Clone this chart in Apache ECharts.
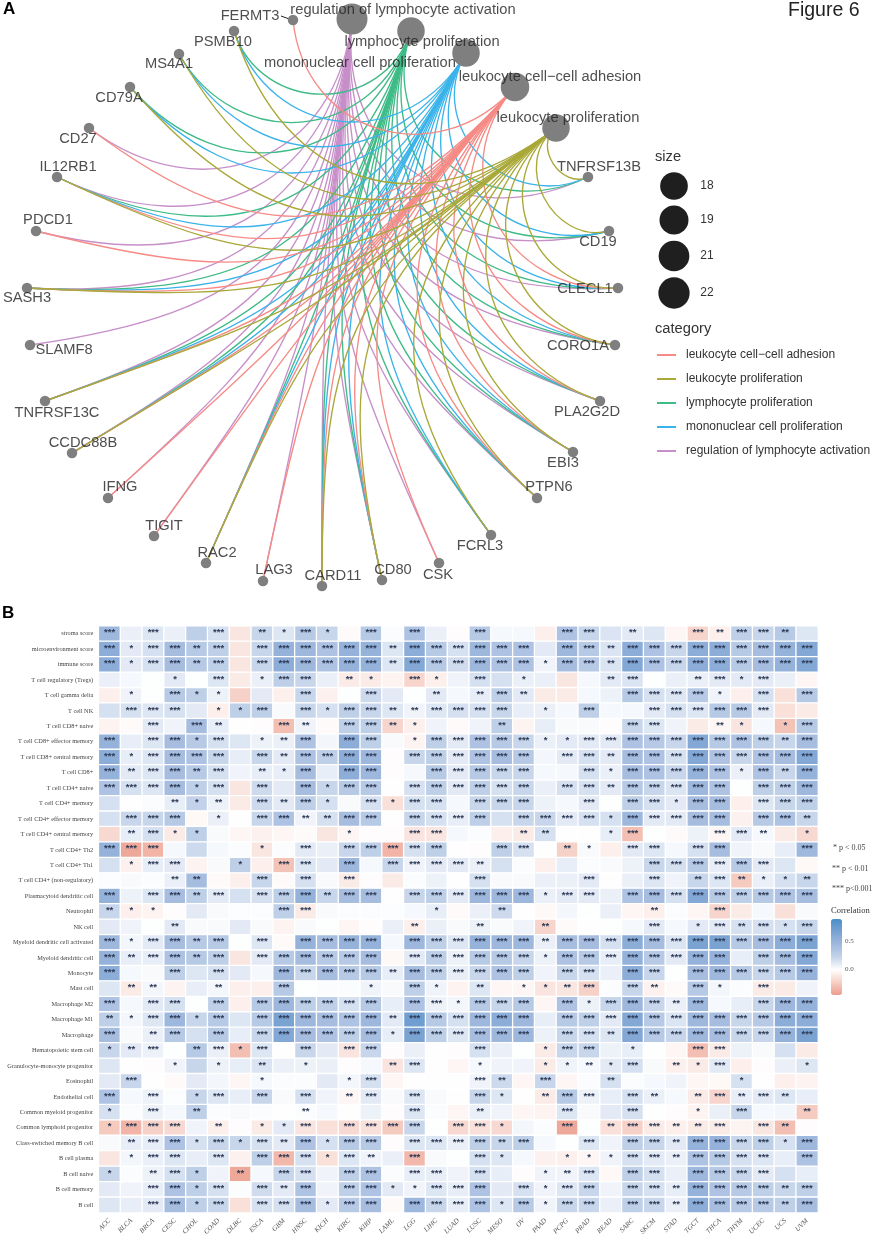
<!DOCTYPE html>
<html>
<head>
<meta charset="utf-8">
<style>html,body{margin:0;padding:0;background:#fff}#c{width:872px;height:1240px}</style>
<script src="https://cdn.jsdelivr.net/npm/echarts@6/dist/echarts.min.js"></script>
</head>
<body>
<div id="c"></div>
<script>
// ---------- panel A data ----------
const termNames = ['leukocyte cell\u2212cell adhesion','leukocyte proliferation','lymphocyte proliferation','mononuclear cell proliferation','regulation of lymphocyte activation'];
const termColors = ['#f68b86','#a9a838','#3fbb87','#3ab3ea','#c78fc9'];
const termX = [515,556,411,466,352];
const termY = [87,128,31,53,19];
const termSizes = [19,18,18,18,22];
const termDiameters = [28.5,27.5,27.5,27.5,31];
const termLabelX = [550,568,422,360,403];
const termLabelY = [77,118,42,63,10];

const geneNames = ['FERMT3','PSMB10','MS4A1','CD79A','CD27','IL12RB1','PDCD1','SASH3','SLAMF8','TNFRSF13C','CCDC88B','IFNG','TIGIT','RAC2','LAG3','CARD11','CD80','CSK','FCRL3','PTPN6','EBI3','PLA2G2D','CORO1A','CLECL1','CD19','TNFRSF13B'];
const geneX = [293,234,179,130,89,57,36,27,30,45,72,108,154,206,263,322,382,439,491,537,573,600,615,618,609,588];
const geneY = [20,31,54,87,128,177,231,288,345,401,453,498,536,563,581,586,580,563,535,498,452,401,345,288,231,177];
const geneLabelX = [250,223,169,119,78,68,48,27,64,57,83,120,164,217,274,333,393,438,480,549,563,587,578,585,598,599];
const geneLabelY = [16,42,64,98,139,167,220,298,350,413,443,487,526,553,570,576,570,575,546,487,463,412,346,289,242,167];

const adhesionGenes = ['FERMT3','CD27','IL12RB1','PDCD1','SASH3','TNFRSF13C','CCDC88B','IFNG','TIGIT','RAC2','LAG3','CARD11','CD80','CSK','PTPN6','EBI3','PLA2G2D','CORO1A','CLECL1'];
const proliferationGenes = ['PSMB10','MS4A1','CD79A','IL12RB1','SASH3','TNFRSF13C','CCDC88B','RAC2','CARD11','CD80','FCRL3','PTPN6','EBI3','PLA2G2D','CORO1A','CLECL1','CD19','TNFRSF13B'];
const lymphocyteGenes = proliferationGenes;
const mononuclearGenes = proliferationGenes;
const regulationGenes = ['CD27','IL12RB1','PDCD1','SASH3','SLAMF8','TNFRSF13C','CCDC88B','IFNG','TIGIT','RAC2','LAG3','CARD11','CD80','CSK','FCRL3','PTPN6','EBI3','PLA2G2D','CORO1A','CLECL1','CD19','TNFRSF13B'];

const sizeLegendValues = [18,19,21,22];
const sizeLegendDiameters = [27.7,29,30.7,31.3];
const sizeLegendY = [186,220,256,293];

// ---------- panel B data ----------
const cancers = ['ACC','BLCA','BRCA','CESC','CHOL','COAD','DLBC','ESCA','GBM','HNSC','KICH','KIRC','KIRP','LAML','LGG','LIHC','LUAD','LUSC','MESO','OV','PAAD','PCPG','PRAD','READ','SARC','SKCM','STAD','TGCT','THCA','THYM','UCEC','UCS','UVM'];
const cellTypes = ['stroma score','microenvironment score','immune score','T cell regulatory (Tregs)','T cell gamma delta','T cell NK','T cell CD8+ naive','T cell CD8+ effector memory','T cell CD8+ central memory','T cell CD8+','T cell CD4+ naive','T cell CD4+ memory','T cell CD4+ effector memory','T cell CD4+ central memory','T cell CD4+ Th2','T cell CD4+ Th1','T cell CD4+ (non-regulatory)','Plasmacytoid dendritic cell','Neutrophil','NK cell','Myeloid dendritic cell activated','Myeloid dendritic cell','Monocyte','Mast cell','Macrophage M2','Macrophage M1','Macrophage','Hematopoietic stem cell','Granulocyte-monocyte progenitor','Eosinophil','Endothelial cell','Common myeloid progenitor','Common lymphoid progenitor','Class-switched memory B cell','B cell plasma','B cell naive','B cell memory','B cell'];
const correlation = [
[.45,.07,.12,.07,.25,.15,-.12,.2,.12,.3,.2,-.03,.3,.01,.35,.07, -.02,.3,.03,.03,-.08,.35,.2,.13,.1,.12,-.05,-.2,-.08,.25,.2,.3,.12],
[.55,.1,.15,.4,.3,.25,-.12,.2,.5,.45,.35,.5,.5,.12,.55,.3, .15,.45,.35,.35,.1,.45,.3,.13,.55,.35,.2,.55,.55,.3,.4,.5,.6],
[.55,.1,.15,.4,.3,.25,-.12,.2,.55,.45,.35,.5,.5,.12,.6,.3, .17,.45,.35,.35,.05,.4,.3,.13,.6,.35,.2,.55,.55,.3,.4,.5,.6],
[.07,.03,0,.1,0,.12,-.1,.07,.25,.2,.07,-.1,-.1,-.06,-.2,-.08, .05,.15,.15,.07,.07,-.12,.03,.1,.13,0,.07,.07,.1,.1,.1,.07,-.05],
[-.08,.05,0,.3,.25,.06,-.22,.1,-.08,.2,-.07,0,.18,.1,0,.1, .03,.08,.25,.1,-.1,-.1,.03,.06,.3,.15,.12,.3,.05,-.08,.15,-.15,.3],
[.15,.15,.12,.15,.1,-.08,.25,.25,.02,.2,.15,.25,.2,.12,.05,.12, .15,.15,.2,.08,.07,.03,.25,.03,.03,.1,.15,.12,.3,.3,.1,-.15,-.1],
[-.06,-.03,.1,.05,.4,.08,-.01,-.02,-.3,.05,-.03,.25,.25,-.2,-.08,.05, -.03,.05,.25,-.06,.08,.02,.02,-.02,.2,.12,.05,-.1,-.05,-.13,.03,-.28,.3],
[.5,.08,.12,.4,.3,.15,.12,.06,.07,.35,.04,.55,.25,.02,-.06,.25, .1,.35,.3,.2,.07,.1,.1,.1,.35,.3,.2,.6,.3,.35,.25,.2,.4],
[.55,.08,.12,.4,.35,.2,.08,.2,.1,.35,.25,.55,.45,-.02,.2,.25, .1,.35,.4,.3,.04,.1,.15,.1,.4,.35,.15,.6,.35,.2,.35,.4,.6],
[.5,.1,.12,.4,.3,.15,.05,.08,.08,.4,.08,.55,.45,-.02,.03,.3, .1,.3,.2,.2,.03,.03,.15,.07,.4,.35,.2,.5,.35,.07,.35,.2,.5],
[.35,.15,.12,.4,.25,.15,-.12,.18,.1,.4,.2,.3,.3,-.01,.15,.25, .1,.25,.15,.2,.07,.15,.15,.1,.3,.2,.13,.45,.35,0,.25,.25,.45],
[.15,-.01,.01,.08,.22,.06,-.1,.18,.1,.25,.15,.02,.15,-.15,.15,.15, .03,.2,.2,.2,.06,.03,.1,0,.25,.15,.1,.4,.4,-.08,.12,.2,.25],
[.15,.2,.2,.3,-.04,.07,-.01,.2,.35,.05,.15,.4,.3,-.01,.2,.15, .08,.25,.15,.2,.2,.1,.15,.15,.45,.1,.1,.4,.4,-.07,.3,.35,.2],
[-.18,.08,.15,-.1,.25,.02,-.05,-.07,-.05,-.03,-.12,-.05,-.02,-.02,-.13,-.12, .03,.01,-.08,-.1,.15,-.01,-.01,.08,-.3,0,-.03,.06,-.05,.1,.03,-.1,-.18],
[.5,-.4,-.35,.03,.18,.03,.01,-.12,.01,.1,.07,.2,.25,-.35,.15,.25, -.01,-.02,.25,.15,-.01,-.22,.02,-.08,.1,.12,.03,.15,.4,.05,.02,.08,.45],
[.15,-.07,.08,.1,-.06,.02,.25,-.08,-.28,.12,.1,.45,.03,.2,.05,.1, .1,.07,.15,.01,-.08,.08,.01,.02,.06,.2,.15,.3,.08,.3,.1,.12,-.04],
[.01,.02,.01,.07,.4,-.03,-.08,.2,-.03,.15,.02,-.1,-.02,-.1,.01,.06, -.01,.15,.02,.02,.07,.07,.1,-.01,.07,.12,.05,.2,.12,-.25,.07,.15,.2],
[.5,.06,.12,.4,.25,.1,.15,.15,.25,.5,.2,.4,.4,-.01,.2,.25, .1,.45,.45,.45,.07,.1,.1,.07,.35,.4,.15,.6,.3,.25,.3,.35,.4],
[.2,-.08,-.06,-.02,.1,.02,.01,.01,.25,-.1,.02,.01,.01,.01,.03,.08, -.03,.07,.18,-.01,-.04,.04,0,.07,-.05,-.08,.01,-.05,-.2,-.1,.03,-.15,.02],
[.1,.05,0,.1,.02,.02,.1,.02,-.06,.02,0,-.05,-.02,.07,-.08,.07, .02,.06,.02,.05,-.2,-.03,-.01,0,.03,.1,.03,.1,.1,.15,.15,.15,.2],
[.45,.04,.1,.4,.3,.3,0,.12,-.03,.5,.4,.5,.5,.03,.45,.25, .12,.5,.45,.45,.07,.4,.4,.15,.55,.4,.13,.65,.65,.3,.4,.55,.65],
[.5,.08,.08,.35,.3,.25,-.12,.1,.3,.4,.3,.3,.4,-.04,.1,.25, .06,.3,.3,.2,.06,.35,.3,.08,.5,.3,.1,.5,.5,.08,.25,.4,.6],
[.55,.03,.02,.25,.12,.15,.1,.03,.45,.2,.4,.3,.3,.08,.4,.25, .08,.2,.35,.25,.05,.2,.15,.07,.55,.2,0,.4,.45,.3,.2,.3,.5],
[.12,-.1,.04,-.06,.08,.04,-.08,-.08,.3,0,.01,.01,.05,.02,.25,.05, -.06,.12,-.05,-.05,-.13,-.12,-.22,.01,.2,-.07,-.03,.3,.04,.01,-.1,-.1,.05],
[.35,.03,.1,.15,0,.25,-.08,.3,.45,.25,.25,.15,.3,.08,.35,.06, .04,.3,.2,.3,-.05,.35,.06,.2,.45,.2,.07,.45,.03,.08,.2,.45,.5],
[.25,.04,.12,.45,.2,.3,.12,.3,.65,.45,.4,.35,.45,.1,.7,.3, .15,.45,.55,.45,.08,.3,.25,.1,.6,.3,.13,.45,.4,.2,.3,.55,.55],
[.4,.02,.07,.3,.15,.3,.08,.2,.6,.4,.35,.25,.4,.08,.65,.25, .12,.4,.45,.45,.06,.2,.15,.12,.6,.3,.2,.45,.4,.2,.2,.5,.65],
[.2,.1,.06,0,.3,.07,-.3,.12,-.01,.2,.1,-.13,.2,-.02,.07,-.01, -.02,.15,.07,0,-.1,.2,.2,.06,.08,0,-.05,-.3,-.1,.06,.02,.15,-.1],
[.12,-.01,-.02,.05,.2,.06,.08,.13,.07,.06,.07,-.02,.03,-.13,.12,-.01, -.05,.03,.05,.05,-.1,.05,.03,.1,.15,.02,-.08,-.1,.1,-.08,-.02,.07,.12],
[.1,.2,-.01,-.03,.1,.04,-.05,.03,.01,.01,.1,.04,.15,-.05,-.01,-.01, -.01,.05,.18,-.05,.2,-.05,.01,.15,.01,.03,.05,-.05,-.04,.15,-.01,-.08,-.06],
[.35,.03,.06,.01,.2,.12,.08,.2,.02,.15,.05,-.05,.1,.02,.12,.02, -.01,.2,.12,-.01,-.1,.3,.06,.08,.15,.07,.03,-.1,-.2,.08,.1,.12,.08],
[.15,.01,.06,.03,.25,.01,.02,.01,-.01,.01,.03,-.01,.06,-.02,.12,.01, -.05,.07,.05,-.05,-.06,.12,.02,.1,.15,0,-.02,-.06,.07,.2,.03,.04,-.25],
[-.25,-.35,-.22,-.18,.05,-.08,-.02,-.1,.1,-.13,-.15,-.18,-.15,-.25,.2,0, -.18,-.15,-.18,.04,.01,-.4,0,-.15,-.22,-.1,-.08,-.1,-.1,-.06,-.12,-.3,-.02],
[.02,.08,.08,.35,.15,.2,.2,.15,.1,.35,.15,.3,.3,-.02,.12,.12, .07,.25,.2,.25,.03,0,.12,.05,.25,.2,.1,.5,.5,.2,.25,.15,.45],
[-.12,.04,.07,.12,.08,.12,-.07,.25,-.33,.15,-.15,.12,.05,.07,-.33,.02, 0,.15,.12,.03,-.07,-.08,-.05,.05,.15,.1,.07,.35,.3,.15,.12,.08,.35],
[.2,.01,.06,.15,.25,.05,-.4,.03,.2,.15,.05,.25,.35,.01,.08,.08, .05,.15,.08,-.02,.05,.05,.12,-.04,.25,.15,.07,.45,.3,.2,.1,.15,.08],
[.1,.05,.08,.35,.25,.15,.01,.17,.1,.35,.05,.25,.35,.1,.05,.12, .08,.35,.1,.15,.05,.12,.2,.05,.2,.15,.08,.5,.35,.3,.25,.2,.25],
[.12,.08,.1,.4,.25,.2,-.15,.15,.15,.4,.1,.3,.4,-.03,.45,.2, .08,.35,.12,.3,.05,.2,.2,.07,.25,.2,.07,.55,.4,.3,.3,.25,.4]
];
const stars = [
'3030030213103030 03000330200323320','3133230333333233 33330332333333333','3133230333333233 33331332333333333',
'0001030133021031 03010002300231300','0103110003003002 02320000333310303','0333011303133223 33301030033333300',
'0030320032033210 00200000330021013','3033130123033013 33331133333333323','3133330323333033 33330332333333333',
'3233230213033003 33330031333331323','3333130303133033 33330332333330333','0002120323103133 03330030331330333',
'0333010332233033 33033331333330332','0231100000010033 00022001300033201','3330000103033333 00330210330330003',
'0133001033030333 32000000033333300','0002200303030000 03000030030232112','3033230333233033 33331330333333333',
'2110000033000001 00200000020030000','0002000000000020 02002000030132313','3133230303333033 33332333333333333',
'3233230333333033 33331333333330333','3003030033333233 33330330330333333','0220020030001031 02011230320310300',
'3033030333333033 13330313332300333','2133130333333233 33330333333333333','3023030333333133 33330332333333333',
'1230231303033000 03001330100330000','0001010201000230 01001121302130001','0300000100013000 03203002000001000',
'3030130303023030 03102330320232320','1030200002000030 02000300300103002','1333020113033330 33100302332230320',
'0233131323133033 33230030332333313','0133030333132030 03100111332333303','1023102033033033 03001230330333300',
'0033130323033113 33031330332333323','0033130333133033 33131330332333323'
];
const colorTicks = [0.5, 0.0];

// ---------- build ----------
const FONT = '"Liberation Sans", Arial, sans-serif';
const SERIF = '"Liberation Serif", "Times New Roman", serif';
const LAYOUT_CENTER = [322, 303];

const membership = [[4, regulationGenes], [2, lymphocyteGenes], [3, mononuclearGenes], [0, adhesionGenes], [1, proliferationGenes]];
const edges = [];
membership.forEach(([ti, genes]) => genes.forEach(g => {
  const i = geneNames.indexOf(g);
  edges.push([geneX[i], geneY[i], termX[ti], termY[ti], ti]);
}));

const heat = [];
cellTypes.forEach((_, r) => {
  const st = stars[r].replace(' ', '');
  cancers.forEach((_, c) => heat.push([c, r, correlation[r][c], +st[c]]));
});

const txt = (t, x, y, style) => ({type: 'text', silent: true, x, y, style: Object.assign({text: t, fill: '#333', font: '14px ' + FONT, textVerticalAlign: 'middle'}, style || {})});

function toward(p, c, d) {
  const dx = c[0] - p[0], dy = c[1] - p[1], r = Math.hypot(dx, dy);
  return [p[0] + dx / r * d, p[1] + dy / r * d];
}
function renderEdge(params, api) {
  const a = [api.value(0), api.value(1)], b = [api.value(2), api.value(3)];
  const L = Math.hypot(b[0] - a[0], b[1] - a[1]);
  const c1 = toward(a, LAYOUT_CENTER, L / 2), c2 = toward(b, LAYOUT_CENTER, L / 2);
  const P0 = api.coord(a), P1 = api.coord(b), C1 = api.coord(c1), C2 = api.coord(c2);
  return {type: 'bezierCurve', silent: true,
    shape: {x1: P0[0], y1: P0[1], x2: P1[0], y2: P1[1], cpx1: C1[0], cpy1: C1[1], cpx2: C2[0], cpy2: C2[1]},
    style: {fill: null, stroke: termColors[api.value(4)], lineWidth: 1.35}};
}
const nameLabel = {show: true, position: 'inside', formatter: p => p.data[2], fontFamily: FONT, fontSize: 14.7, color: '#222'};

const option = {
  animation: false,
  backgroundColor: '#fff',
  textStyle: {fontFamily: FONT},
  grid: [
    {left: 0, top: 0, width: 872, height: 600, outerBoundsMode: 'none'},
    {left: 98.7, top: 626, width: 719.3, height: 586.7, outerBoundsMode: 'none'}
  ],
  xAxis: [
    {type: 'value', min: 0, max: 872, show: false, gridIndex: 0},
    {type: 'category', gridIndex: 1, data: cancers, position: 'bottom', axisLine: {show: false}, axisTick: {show: false}, splitLine: {show: false},
     axisLabel: {interval: 0, rotate: 45, fontFamily: SERIF, fontStyle: 'italic', fontSize: 7, color: '#555', margin: 7}}
  ],
  yAxis: [
    {type: 'value', min: 0, max: 600, inverse: true, show: false, gridIndex: 0},
    {type: 'category', gridIndex: 1, data: cellTypes, inverse: true, axisLine: {show: false}, axisTick: {show: false}, splitLine: {show: false},
     name: 'XCELL', nameLocation: 'middle', nameGap: 92, nameRotate: 90, nameTextStyle: {fontFamily: SERIF, fontSize: 8, color: '#222', fontWeight: 'bold'},
     axisLabel: {interval: 0, fontFamily: SERIF, fontSize: 6.3, color: '#444', margin: 5.5}}
  ],
  legend: {
    orient: 'vertical', left: 657, top: 349, padding: 0, icon: 'rect', itemWidth: 19, itemHeight: 2, itemGap: 12, selectedMode: false,
    data: termNames, textStyle: {fontFamily: FONT, fontSize: 12, color: '#333', padding: [0, 0, 0, 5]}
  },
  visualMap: {
    type: 'continuous', seriesIndex: 0, dimension: 2, min: -0.45, max: 0.88, left: 831, top: 919, itemWidth: 11, itemHeight: 76, padding: 0,
    calculable: false, hoverLink: false, realtime: false, text: null,
    inRange: {color: ['#ec9d8c', '#f6cfc5', '#ffffff', '#c4d3ea', '#a0b9de', '#79a2d2', '#4a8fc9']}
  },
  series: [
    {type: 'heatmap', xAxisIndex: 1, yAxisIndex: 1, data: heat, silent: true, encode: {x: 0, y: 1, value: 2},
     itemStyle: {borderColor: '#fff', borderWidth: 1.3},
     label: {show: true, formatter: p => '*'.repeat(p.data[3]), fontFamily: FONT, fontSize: 9.5, fontWeight: 'bold', color: '#2d3a55', offset: [0, -1]}},
    {type: 'custom', xAxisIndex: 0, yAxisIndex: 0, data: edges, renderItem: renderEdge, silent: true, z: 2, encode: {x: [0, 2], y: [1, 3]}},
    {type: 'scatter', xAxisIndex: 0, yAxisIndex: 0, silent: true, z: 3,
     data: termX.map((x, i) => [x, termY[i], termSizes[i]]),
     symbolSize: (d, p) => termDiameters[p.dataIndex], itemStyle: {color: '#7f7f7f', opacity: 1}},
    {type: 'scatter', xAxisIndex: 0, yAxisIndex: 0, silent: true, z: 3,
     data: geneX.map((x, i) => [x, geneY[i]]), symbolSize: 10.5, itemStyle: {color: '#7f7f7f', opacity: 1}},
    {type: 'scatter', xAxisIndex: 0, yAxisIndex: 0, silent: true, z: 4,
     data: termLabelX.map((x, i) => [x, termLabelY[i], termNames[i]]).concat(geneLabelX.map((x, i) => [x, geneLabelY[i], geneNames[i]])),
     symbolSize: 1, itemStyle: {color: 'rgba(0,0,0,0)'}, label: nameLabel, labelLayout: {hideOverlap: false}},
    {type: 'line', name: 'FERMT3 leader', xAxisIndex: 0, yAxisIndex: 0, data: [[281, 16], [292, 20]], symbol: 'none', silent: true, z: 3, lineStyle: {color: '#222', width: 1}},
    {type: 'scatter', xAxisIndex: 0, yAxisIndex: 0, silent: true, data: sizeLegendValues.map((v, i) => [674, sizeLegendY[i], v]),
     symbolSize: (d, p) => sizeLegendDiameters[p.dataIndex], itemStyle: {color: '#1f1f1f', opacity: 1},
     label: {show: true, position: 'inside', offset: [33, 0], formatter: p => p.data[2], fontFamily: FONT, fontSize: 12, color: '#333'}}
  ].concat(termNames.map((n, i) => ({type: 'line', name: n, xAxisIndex: 0, yAxisIndex: 0, data: [], itemStyle: {color: termColors[i]}, lineStyle: {color: termColors[i]}}))),
  graphic: {elements: [
    txt('A', 3, 9, {font: 'bold 17px ' + FONT, fill: '#000'}),
    txt('B', 2, 613, {font: 'bold 17px ' + FONT, fill: '#000'}),
    txt('Figure 6', 788, 11, {font: '19.5px ' + FONT, fill: '#222'}),
    txt('size', 655, 157, {font: '14.7px ' + FONT}),
    txt('category', 655, 329, {font: '14.7px ' + FONT}),
    txt('* p < 0.05', 833, 848, {font: '8px ' + SERIF, fill: '#444'}),
    txt('** p < 0.01', 832, 869, {font: '8px ' + SERIF, fill: '#444'}),
    txt('*** p<0.001', 832, 889, {font: '8px ' + SERIF, fill: '#444'}),
    txt('Correlation', 831, 911, {font: '8.5px ' + SERIF, fill: '#333'}),
    txt(colorTicks[0].toFixed(1), 845, 941, {font: '7px ' + SERIF, fill: '#555'}),
    txt(colorTicks[1].toFixed(1), 845, 969, {font: '7px ' + SERIF, fill: '#555'})
  ]}
};
const chart = echarts.init(document.getElementById('c'), null, {renderer: 'canvas', width: 872, height: 1240});
chart.setOption(option);
</script>
</body>
</html>
